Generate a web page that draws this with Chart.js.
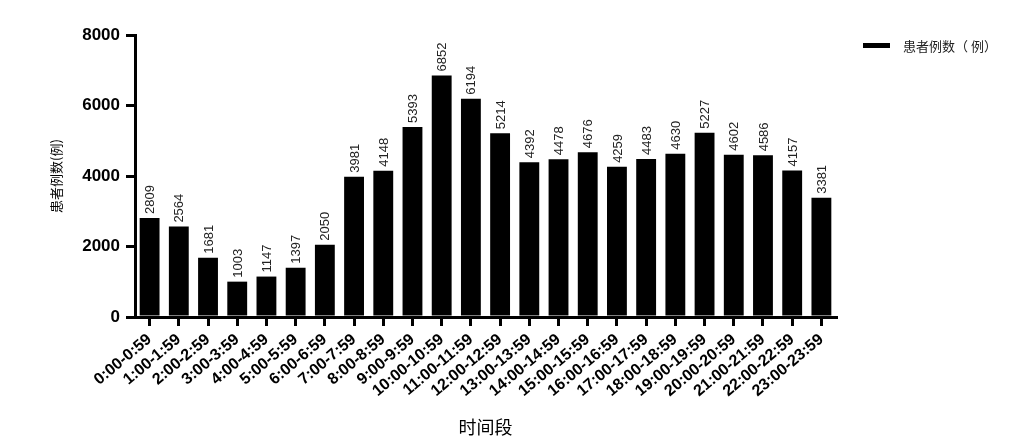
<!DOCTYPE html>
<html><head><meta charset="utf-8">
<script src="https://cdn.jsdelivr.net/npm/chart.js@4"></script>
<style>html,body{margin:0;padding:0;background:#fff}#wrap{width:1012px;height:445px}</style>
</head><body><div id="wrap"><canvas id="c" width="1012" height="445"></canvas></div>
<script>
const categories = ["0:00-0:59","1:00-1:59","2:00-2:59","3:00-3:59","4:00-4:59","5:00-5:59","6:00-6:59","7:00-7:59","8:00-8:59","9:00-9:59","10:00-10:59","11:00-11:59","12:00-12:59","13:00-13:59","14:00-14:59","15:00-15:59","16:00-16:59","17:00-17:59","18:00-18:59","19:00-19:59","20:00-20:59","21:00-21:59","22:00-22:59","23:00-23:59"];
const patients = [2809,2564,1681,1003,1147,1397,2050,3981,4148,5393,6852,6194,5214,4392,4478,4676,4259,4483,4630,5227,4602,4586,4157,3381];
const yTicks = [0,2000,4000,6000,8000];
const seriesName = "患者例数（ 例）";
const xTitle = "时间段";
const yTitle = "患者例数(例)";

const FONT = "'Liberation Sans', Arial, 'Noto Sans CJK SC', sans-serif";
const CJK = "'Noto Sans CJK SC', 'Liberation Sans', sans-serif";

const valueLabels = {
  id: 'valueLabels',
  afterDatasetsDraw(chart) {
    const ctx = chart.ctx;
    const meta = chart.getDatasetMeta(0);
    ctx.save();
    ctx.font = "13px " + FONT;
    ctx.fillStyle = "#222";
    ctx.textAlign = "left";
    ctx.textBaseline = "middle";
    meta.data.forEach((bar, i) => {
      ctx.save();
      ctx.translate(bar.x + 1, bar.y - 4);
      ctx.rotate(-Math.PI / 2);
      ctx.fillText(String(patients[i]), 0, 0);
      ctx.restore();
    });
    ctx.restore();
  }
};

const customLegend = {
  id: 'customLegend',
  afterDraw(chart) {
    const ctx = chart.ctx;
    ctx.save();
    ctx.fillStyle = "#000";
    ctx.fillRect(863, 43, 27, 5);
    ctx.font = "13px " + CJK;
    ctx.fillStyle = "#222";
    ctx.textBaseline = "middle";
    ctx.textAlign = "left";
    ctx.fillText(seriesName, 903, 46);
    ctx.restore();
  }
};

new Chart(document.getElementById('c'), {
  type: 'bar',
  data: {
    labels: categories,
    datasets: [{
      label: seriesName,
      data: patients,
      backgroundColor: "#000",
      borderColor: "#000",
      borderWidth: 0,
      barPercentage: 0.68,
      categoryPercentage: 1.0
    }]
  },
  options: {
    responsive: false,
    animation: false,
    devicePixelRatio: 1,
    layout: { padding: { top: 35, right: 176, bottom: 0, left: 0 } },
    plugins: { legend: { display: false }, tooltip: { enabled: false } },
    scales: {
      x: {
        offset: true,
        afterFit(scale) { scale.height = 128; },
        grid: { display: true, drawOnChartArea: false, drawTicks: true, tickLength: 9, lineWidth: 3, color: "#000", offset: false },
        border: { display: true, width: 3, color: "#000" },
        ticks: { color: "#000", font: { family: FONT, size: 16, weight: "bold" }, minRotation: 40, maxRotation: 40, autoSkip: false, padding: 4 },
        title: { display: true, text: xTitle, color: "#000", font: { family: CJK, size: 18 }, padding: { top: 0, bottom: 7 } }
      },
      y: {
        min: 0, max: 8000,
        afterFit(scale) { scale.width = 135; },
        afterBuildTicks(scale) { scale.ticks = yTicks.map(v => ({ value: v })); },
        grid: { display: true, drawOnChartArea: false, drawTicks: true, tickLength: 9, lineWidth: 3, color: "#000" },
        border: { display: true, width: 3, color: "#000" },
        ticks: { color: "#000", font: { family: FONT, size: 17, weight: "bold" }, padding: 6, callback: (v) => String(v) },
        title: { display: true, text: yTitle, color: "#000", font: { family: CJK, size: 13 }, padding: { top: 48, bottom: 0 } }
      }
    }
  },
  plugins: [valueLabels, customLegend]
});
</script>
</body></html>
